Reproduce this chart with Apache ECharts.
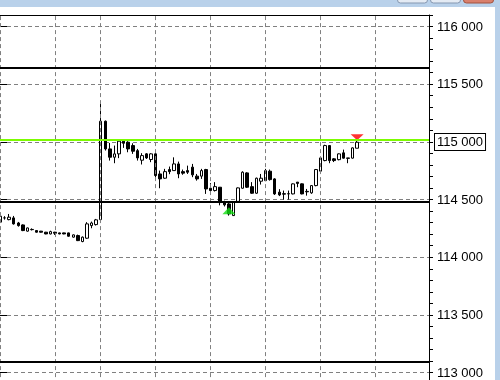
<!DOCTYPE html>
<html><head><meta charset="utf-8">
<script src="https://cdn.jsdelivr.net/npm/echarts@6/dist/echarts.min.js"></script>
<style>html,body{margin:0;padding:0;background:#fff;}#c{width:500px;height:380px;}</style>
</head><body><div id="c"></div>
<script>
// bar index 0..78 (oldest -> newest)
const opens  = [114304,114341,114326,114341,114297,114280,114226,114241,114231,114226,114217,114202,114217,114211,114211,114211,114174,114188,114136,114165,114274,114283,114326,115179,114939,114867,114896,115006,114997,114968,114924,114841,114896,114847,114896,114722,114685,114760,114751,114809,114742,114751,114781,114703,114703,114760,114598,114578,114607,114477,114462,114361,114484,114598,114731,114612,114555,114659,114664,114746,114679,114564,114551,114549,114549,114651,114636,114571,114558,114621,114746,114838,114968,114853,114846,114905,114861,114859,114945];
const closes = [114356,114341,114347,114289,114274,114231,114254,114239,114217,114217,114202,114222,114208,114202,114202,114182,114194,114144,114174,114289,114297,114324,115179,114939,114867,114896,115006,114988,114939,114919,114861,114881,114861,114896,114708,114679,114742,114742,114809,114722,114729,114737,114714,114679,114751,114592,114578,114612,114474,114454,114376,114477,114601,114737,114607,114555,114685,114685,114751,114673,114549,114540,114547,114551,114636,114640,114549,114567,114621,114760,114861,114968,114838,114838,114896,114859,114857,114948,114997];
const lows   = [114295,114326,114320,114283,114265,114226,114222,114232,114213,114214,114199,114198,114193,114199,114199,114178,114170,114140,114130,114160,114251,114275,114320,114925,114838,114815,114859,114948,114910,114896,114838,114804,114852,114824,114690,114598,114680,114720,114751,114685,114715,114722,114694,114664,114679,114549,114549,114570,114450,114440,114361,114358,114480,114595,114600,114550,114550,114630,114660,114664,114540,114530,114500,114500,114545,114607,114545,114534,114550,114615,114740,114832,114815,114825,114840,114855,114815,114855,114945];
const highs  = [114362,114356,114375,114358,114306,114285,114257,114250,114234,114228,114220,114230,114220,114213,114213,114213,114197,114196,114180,114304,114309,114332,115351,115185,114991,114968,115011,115010,115006,114988,114939,114902,114902,114902,114902,114751,114766,114786,114866,114829,114760,114794,114809,114722,114766,114766,114642,114651,114607,114490,114470,114480,114605,114745,114737,114651,114690,114722,114766,114760,114685,114590,114578,114578,114640,114651,114640,114592,114625,114765,114866,114975,114972,114860,114900,114933,114861,114952,115026];

const levelLines = [115644, 114481, 113095];   // black horizontal levels
const greenLevel = 115018;                      // green level
const gridBars = [0, 12, 22, 34, 46, 58, 70, 82]; // bars carrying vertical grid lines
const buyMarker = [50, 114403];
const sellMarker = [78, 115041];
const yMajor = [113000, 113500, 114000, 114500, 115000, 115500, 116000];
const boxedPrice = 115000;

const candles = opens.map((o, i) => [i, o, closes[i], lows[i], highs[i]]);
const fmt = v => String(v).replace(/\B(?=(\d{3})+(?!\d))/g, ' ');

const chart = echarts.init(document.getElementById('c'), null, {renderer: 'canvas'});
chart.setOption({
  animation: false,
  backgroundColor: '#ffffff',
  grid: {left: 0, top: 15, width: 429, height: 369.1, containLabel: false, outerBoundsMode: 'none'},
  xAxis: {
    type: 'value', min: 0, max: 93.7, position: 'top',
    axisLine: {show: true, onZero: false, lineStyle: {color: '#000', width: 1}},
    axisTick: {show: false}, axisLabel: {show: false}, splitLine: {show: false}
  },
  yAxis: [{
    type: 'value', position: 'right', min: 112900, max: 116100, interval: 100,
    axisLine: {show: true, onZero: false, lineStyle: {color: '#000', width: 1}},
    axisTick: {show: true, length: 4, lineStyle: {color: '#000'}},
    axisLabel: {
      margin: 6,
      formatter: v => v % 500 === 0 ? (v === boxedPrice ? '{b|' + fmt(v) + '}' : '{n|' + fmt(v) + '}') : '',
      rich: {
        n: {fontFamily: 'Liberation Sans', fontSize: 13, color: '#000', padding: [2, 2, 1, 2], lineHeight: 13},
        b: {fontFamily: 'Liberation Sans', fontSize: 13, color: '#000', padding: [2, 2, 1, 2], lineHeight: 13,
            borderColor: '#000', borderWidth: 1, backgroundColor: '#fff'}
      }
    },
    splitLine: {show: true, lineStyle: {type: [4, 3], width: 1,
      color: ['rgba(0,0,0,0)', '#808080', 'rgba(0,0,0,0)', 'rgba(0,0,0,0)', 'rgba(0,0,0,0)']}}
  }, {
    type: 'value', position: 'right', min: 112900, max: 116100,
    axisLine: {show: false},
    axisTick: {show: true, length: 7, customValues: yMajor, lineStyle: {color: '#000'}},
    axisLabel: {show: false}, splitLine: {show: false}
  }],
  graphic: [
    {type: 'rect', shape: {x: 0, y: 0, width: 500, height: 7}, style: {fill: '#b9d1ea'}},
    {type: 'rect', shape: {x: 495, y: 0, width: 5, height: 380}, style: {fill: '#b9d1ea'}},
    {type: 'rect', shape: {x: 397.5, y: -8, width: 30, height: 11, r: 3}, style: {fill: '#e4ebf4', stroke: '#8597b0'}},
    {type: 'rect', shape: {x: 430.5, y: -8, width: 30, height: 11, r: 3}, style: {fill: '#e4ebf4', stroke: '#8597b0'}},
    {type: 'rect', shape: {x: 463.5, y: -8, width: 30, height: 11, r: 3}, style: {fill: '#d9806d', stroke: '#a0513f'}}
  ],
  series: [{
    type: 'scatter', data: [], z: 1, silent: true,
    markLine: {silent: true, symbol: 'none', label: {show: false},
      lineStyle: {color: '#808080', type: [4, 3], width: 1},
      data: gridBars.map(x => ({xAxis: x}))}
  }, {
    type: 'candlestick', z: 2, barWidth: 3, clip: true,
    data: candles,
    itemStyle: {color: '#fff', color0: '#000', borderColor: '#000', borderColor0: '#000', borderColorDoji: '#000', borderWidth: 1}
  }, {
    type: 'scatter', data: [], z: 3, silent: true,
    markLine: {silent: true, symbol: 'none', label: {show: false},
      data: levelLines.map(v => ({yAxis: v, lineStyle: {color: '#000', width: 2, type: 'solid'}}))
        .concat([{yAxis: greenLevel, lineStyle: {color: '#7cfc00', width: 2, type: 'solid'}}])}
  }, {
    type: 'scatter', z: 4, silent: true, symbol: 'triangle', symbolSize: [13, 7],
    itemStyle: {color: '#11dd11'}, data: [buyMarker]
  }, {
    type: 'scatter', z: 4, silent: true, symbol: 'triangle', symbolRotate: 180, symbolSize: [13, 6],
    itemStyle: {color: '#ff0000'}, data: [sellMarker]
  }]
});
</script></body></html>
